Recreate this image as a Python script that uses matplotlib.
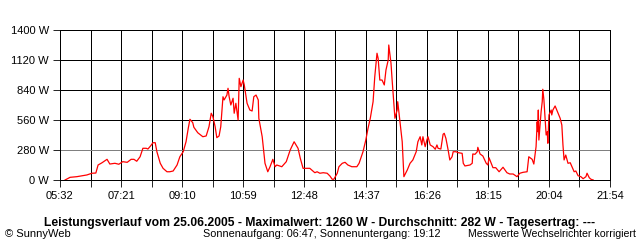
import numpy as np
import matplotlib
matplotlib.use('Agg')
import matplotlib.pyplot as plt

# Leistungsverlauf 25.06.2005 (Minuten seit Mitternacht, Watt)
minutes = [341, 350, 362, 380, 389, 396, 400, 407, 416, 421, 430, 437, 444, 452,
           459, 464, 469, 475, 480, 486, 489, 494, 498, 502, 505, 511, 516, 523,
           528, 534, 541, 546, 552, 557, 561, 564, 569, 571, 578, 587, 593, 598,
           602, 605, 609, 612, 616, 619, 623, 625, 630, 632, 634, 637, 641, 643,
           646, 650, 652, 655, 659, 661, 666, 671, 675, 678, 682, 686, 687, 693,
           698, 703, 707, 712, 716, 719, 728, 736, 743, 750, 757, 761, 766, 778,
           787, 791, 796, 802, 809, 814, 818, 821, 827, 830, 836, 841, 846, 853,
           862, 866, 873, 878, 882, 886, 891, 894, 898, 900, 903, 907, 911, 914,
           918, 919, 923, 925, 928, 930, 934, 935, 939, 943, 946, 952, 957, 962,
           968, 971, 975, 978, 980, 984, 987, 989, 993, 998, 1002, 1005, 1007,
           1012, 1016, 1018, 1021, 1025, 1028, 1032, 1034, 1039, 1043, 1050, 1052,
           1055, 1064, 1068, 1069, 1073, 1077, 1078, 1082, 1087, 1093, 1096, 1098,
           1102, 1105, 1110, 1116, 1123, 1130, 1135, 1141, 1148, 1153, 1159, 1166,
           1169, 1175, 1178, 1182, 1184, 1185, 1186, 1187, 1191, 1193, 1194, 1196,
           1198, 1200, 1202, 1203, 1205, 1209, 1210, 1212, 1216, 1219, 1225, 1228,
           1230, 1232, 1235, 1239, 1243, 1246, 1250, 1253, 1257, 1262, 1266, 1271,
           1273, 1277, 1280, 1284]
watts = [0, 25, 31, 47, 63, 65, 140, 161, 193, 149, 156, 147, 171, 165,
         193, 193, 175, 217, 296, 296, 289, 320, 348, 348, 264, 156, 109, 77,
         77, 84, 140, 217, 264, 357, 483, 567, 535, 492, 441, 404, 411, 497,
         623, 591, 497, 395, 411, 497, 777, 747, 793, 856, 777, 700, 763, 623,
         716, 560, 949, 871, 933, 887, 716, 653, 644, 777, 793, 747, 576, 404,
         156, 77, 124, 193, 124, 140, 124, 171, 280, 357, 296, 203, 109, 109,
         68, 77, 63, 68, 63, 37, 7, 7, 63, 124, 156, 165, 140, 124,
         124, 156, 264, 373, 483, 576, 731, 964, 1183, 1136, 933, 933, 887, 1027,
         1120, 1260, 1089, 933, 716, 576, 653, 731, 544, 357, 31, 93, 156, 187,
         264, 357, 404, 327, 404, 311, 373, 404, 327, 311, 287, 327, 296,
         289, 427, 436, 389, 280, 187, 217, 264, 264, 255, 249, 156,
         131, 140, 156, 243, 240, 264, 305, 243, 224, 156, 140, 208,
         156, 115, 115, 77, 119, 68, 56, 56, 31, 63, 72, 77,
         217, 193, 149, 311, 544, 451, 653, 373, 637, 731, 847, 747,
         591, 420, 451, 343, 607, 653, 607, 653, 691, 653, 576, 513,
         327, 187, 233, 156, 161, 124, 77, 84, 40, 31, 12, 31,
         63, 21, 7, 0]

y_ticks = [0, 280, 560, 840, 1120, 1400]
x_labels = ['05:32', '07:21', '09:10', '10:59', '12:48', '14:37',
            '16:26', '18:15', '20:04', '21:54']
x_start, x_end = 332, 1314

plt.rcParams['font.family'] = ['Liberation Sans', 'DejaVu Sans']

fig = plt.figure(figsize=(6.4, 2.4), dpi=100)
ax = fig.add_axes([60 / 640, 60 / 240, 550 / 640, 150 / 240])

# Gitterlinien alle halbe Beschriftungsschritte
minor = np.linspace(x_start, x_end, 2 * len(x_labels) - 1)

for x in minor:
    ax.axvline(x, color='black', lw=0.6, antialiased=False, zorder=1)
for y in y_ticks:
    ax.axhline(y, color='#808080' if y == 280 else 'black', lw=0.6,
               antialiased=False, zorder=1)

ax.plot(minutes, watts, color='red', lw=0.9, zorder=3)

ax.set_xlim(x_start, x_end)
ax.set_ylim(0, 1400)
labels = []
for lbl in x_labels:
    labels += [lbl, '']
ax.set_xticks(minor)
ax.set_xticklabels(labels[:-1])
ax.set_yticks(y_ticks)
ax.set_yticklabels([f'{v} W' for v in y_ticks])
ax.tick_params(axis='both', direction='out', length=5, width=0.6,
               labelsize=8, pad=3, color='black')
for s in ax.spines.values():
    s.set_linewidth(0.6)
    s.set_antialiased(False)

fig.text(0.5, 17 / 240,
         'Leistungsverlauf vom 25.06.2005 - Maximalwert: 1260 W - '
         'Durchschnitt: 282 W - Tagesertrag: ---',
         ha='center', va='center', fontsize=8.7, fontweight='bold')
fig.text(5 / 640, 6 / 240, '\u00a9 SunnyWeb', ha='left', va='center', fontsize=8)
fig.text(203 / 640, 6 / 240, 'Sonnenaufgang: 06:47, Sonnenuntergang: 19:12',
         ha='left', va='center', fontsize=7.8)
fig.text(636 / 640, 6 / 240, 'Messwerte Wechselrichter korrigiert',
         ha='right', va='center', fontsize=7.6)

fig.savefig('out.png', dpi=100, facecolor='white')
